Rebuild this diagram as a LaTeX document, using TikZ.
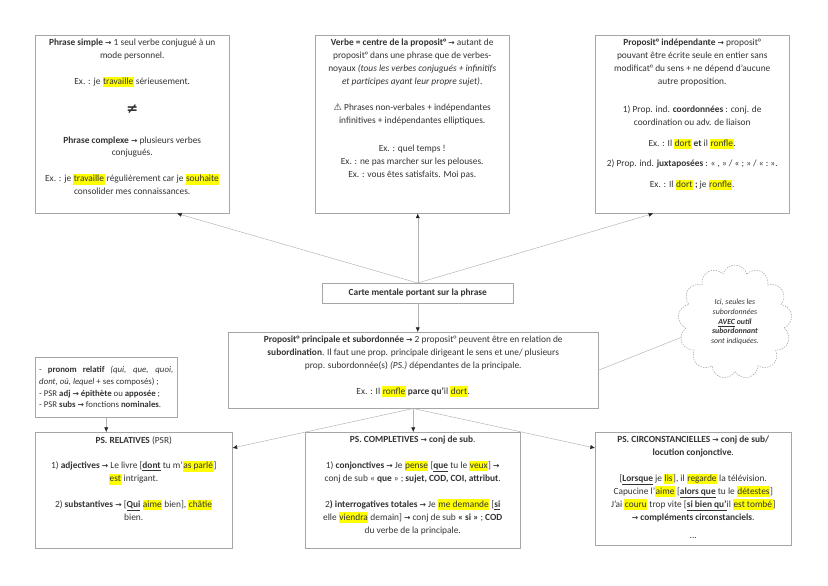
\documentclass[tikz,border=0pt]{standalone}
\usepackage{fontspec}
\setmainfont{Carlito}
\newfontfamily\symb{DejaVu Sans}
\usepackage{xcolor}
\usetikzlibrary{arrows.meta,calc,shapes.symbols}
\definecolor{surligne}{RGB}{255,255,0}
\newcommand\fl{{\symb\bfseries\fontsize{6.5}{6.5}\selectfont →}}
\newcommand\surl[1]{{\setlength\fboxsep{0.4pt}\colorbox{surligne}{\rule[-0.25em]{0pt}{1.05em}#1}}}
\newcommand\boite[3]{\parbox[c][#2][t]{#1}{\centering #3}}

\begin{document}
\begin{tikzpicture}[x=0.03cm,y=-0.03cm,
  cadre/.style={draw=black!35,fill=white,anchor=north west,inner sep=0.12cm,
    font=\fontsize{8}{11}\selectfont,text=black!80},
  fleche/.style={draw=black!30,-{Latex[length=4pt,width=3.5pt,color=black!85]}},
  lien/.style={draw=black!30},
  nuage/.style={cloud,cloud puffs=13,aspect=1,draw=black!40,
    dash pattern=on 1.2pt off 1pt,minimum width=3.42cm,minimum height=3.42cm,
    align=center,font=\fontsize{6.7}{8.2}\selectfont\itshape,text=black!80}]
\useasboundingbox (0,0) rectangle (828,586);

\node[cadre] (simple) at (35,35) {\boite{5.58cm}{5.10cm}{%
\textbf{Phrase simple} \fl{} 1 seul verbe conjugué à un\\
mode personnel.\\[11pt]
Ex. : je \surl{travaille} sérieusement.\\[14pt]
{\symb\fontsize{12}{12}\selectfont\bfseries ≠}\\[14pt]
\textbf{Phrase complexe} \fl{} plusieurs verbes\\
conjugués.\\[11pt]
Ex. : je \surl{travaille} régulièrement car je \surl{souhaite}\\
consolider mes connaissances.}};

\node[cadre] (verbe) at (315,35) {\boite{5.58cm}{5.10cm}{%
\textbf{Verbe = centre de la proposit° \fl} autant de\\
proposit° dans une phrase que de verbes-\\
noyaux \textit{(tous les verbes conjugués + infinitifs}\\
\textit{et participes ayant leur propre sujet)}.\\[11pt]
{\symb\fontsize{8}{8}\selectfont ⚠} Phrases non-verbales + indépendantes\\
infinitives + indépendantes elliptiques.\\[13pt]
Ex. : quel temps !\\
Ex. : ne pas marcher sur les pelouses.\\
Ex. : vous êtes satisfaits. Moi pas.}};

\node[cadre] (indep) at (595,35) {\boite{5.58cm}{5.10cm}{%
\textbf{Proposit° indépendante} \fl{} proposit°\\
pouvant être écrite seule en entier sans\\
modificat° du sens + ne dépend d’aucune\\
autre proposition.\\[13pt]
1) Prop. ind. \textbf{coordonnées} : conj. de\\
coordination ou adv. de liaison\\[7pt]
Ex. : Il \surl{dort} \textbf{et} il \surl{ronfle}.\\[6pt]
2) Prop. ind. \textbf{juxtaposées} : «~,~» / «~;~» / «~:~».\\[7pt]
Ex. : Il \surl{dort} \textbf{;} je \surl{ronfle}.}};

\node[cadre,minimum width=5.73cm,minimum height=0.6cm] (titre) at (322,283)
  {\textbf{Carte mentale portant sur la phrase}};

\node[cadre] (principale) at (228,332) {\boite{10.86cm}{2.04cm}{%
\textbf{Proposit° principale et subordonnée} \fl{} 2 proposit° peuvent être en relation de\\
\textbf{subordination}. Il faut une prop. principale dirigeant le sens et une/ plusieurs\\
prop. subordonnée(s) \textit{(PS.)} dépendantes de la principale.\\[11pt]
Ex. : Il \surl{ronfle} \textbf{parce qu’}il \surl{dort}.}};

\node[nuage] (nuage) at (735,322) {Ici, seules les\\ subordonnées\\
  \textbf{\underline{AVEC} outil}\\ \textbf{subordonnant}\\ sont indiquées.};

\node[cadre,font=\fontsize{7.5}{10}\selectfont] (note) at (35,357)
  {\parbox[c][1.56cm][c]{4.02cm}{%
- \textbf{pronom relatif} \textit{(qui, que, quoi,}\linebreak
\textit{dont, où, lequel} + ses composés) ;\\
- PSR \textbf{adj} \fl{} \textbf{épithète} ou \textbf{apposée} ;\\
- PSR \textbf{subs} \fl{} fonctions \textbf{nominales}.}};

\node[cadre] (psr) at (35,432) {\boite{5.67cm}{3.24cm}{%
\textbf{PS. RELATIVES} (PSR)\\[11pt]
1) \textbf{adjectives} \fl{} Le livre [\underline{\textbf{dont}} tu m’\surl{as parlé}]\\
\surl{est} intrigant.\\[11pt]
2) \textbf{substantives} \fl{} [\underline{\textbf{Qui}} \surl{aime} bien], \surl{châtie}\\
bien.}};

\node[cadre] (compl) at (305,432) {\boite{6.21cm}{3.24cm}{%
\textbf{PS. COMPLETIVES \fl{} conj de sub}.\\[11pt]
1) \textbf{conjonctives} \fl{} Je \surl{pense} [\underline{\textbf{que}} tu le \surl{veux}] \fl\\
conj de sub «~\textbf{que}~» ; \textbf{sujet, COD, COI, attribut}.\\[11pt]
2\textbf{) interrogatives totales} \fl{} Je \surl{me demande} [\underline{\textbf{si}}\\
elle \surl{viendra} demain] \fl{} conj de sub \textbf{«~si~»} ; \textbf{COD}\\
du verbe de la principale.}};

\node[cadre] (circ) at (595,432) {\boite{5.64cm}{3.15cm}{%
\textbf{PS. CIRCONSTANCIELLES \fl{} conj de sub/}\\
\textbf{locution conjonctive}.\\[11pt]
[\underline{\textbf{Lorsque}} je \surl{lis}], il \surl{regarde} la télévision.\\
Capucine l’\surl{aime} [\underline{\textbf{alors que}} tu le \surl{détestes}]\\
J’ai \surl{couru} trop vite [\underline{\textbf{si bien qu’}}il \surl{est tombé}]\\
\fl{} \textbf{compléments circonstanciels}.\\[5pt]
...}};

\draw[fleche] (titre.north) -- ($(simple.south west)!.73!(simple.south east)$);
\draw[fleche] (titre.north) -- (titre.north |- verbe.south);
\draw[fleche] (titre.north) -- ($(indep.south west)!.3!(indep.south east)$);
\draw[fleche] (titre.south) -- (titre.south |- principale.north);
\draw[fleche] (principale.south) -- ($(psr.north east)+(0,16)$);
\draw[fleche] (principale.south) -- (principale.south |- compl.north);
\draw[fleche] (principale.south) -- ($(circ.north west)+(0,16)$);
\draw[fleche] (note.south) -- (note.south |- psr.north);
\draw[lien] (principale.east) -- (nuage.196);
\end{tikzpicture}
\end{document}
